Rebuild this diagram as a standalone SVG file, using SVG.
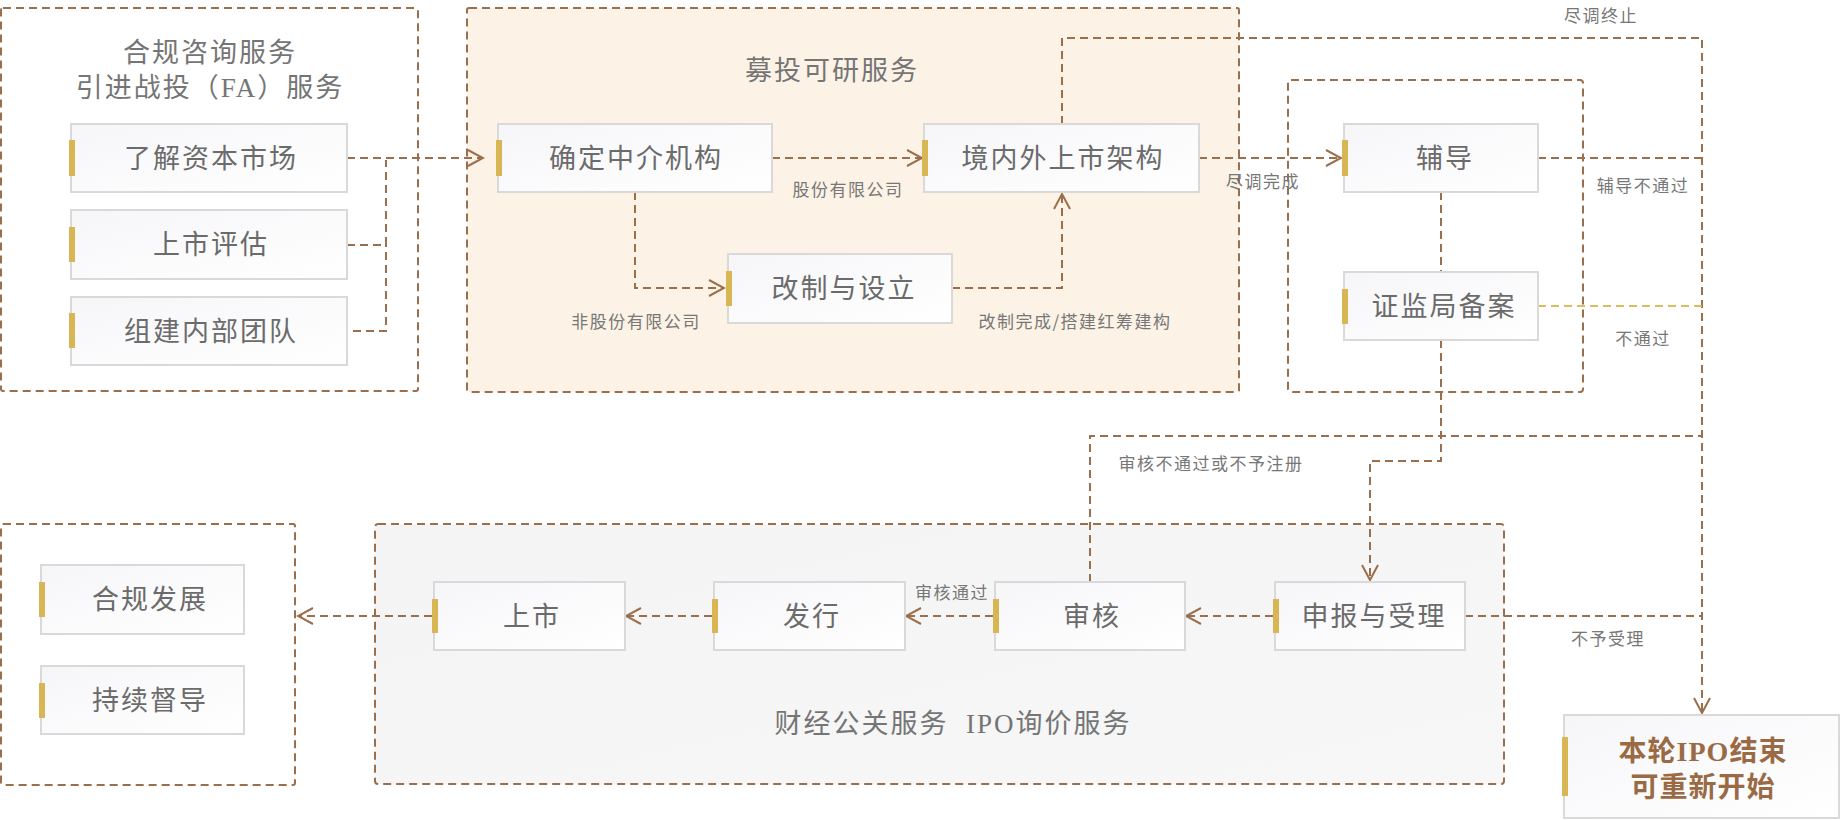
<svg xmlns="http://www.w3.org/2000/svg" width="1840" height="820" viewBox="0 0 1840 820">
<style>
.frame{fill:none;stroke:#9b6e4c;stroke-width:2;stroke-dasharray:8 5}
.node rect.b{fill:url(#ng);stroke:#d9d9d9;stroke-width:2}
.node rect.bar{fill:#d8b653;stroke:none}
.nt{font-family:"Liberation Serif","Noto Sans CJK SC",serif;font-size:27px;letter-spacing:2px;fill:#6b6b6b;text-anchor:middle}
.tt{font-family:"Liberation Serif","Noto Sans CJK SC",serif;font-size:27px;letter-spacing:2px;fill:#757575;text-anchor:middle;white-space:pre}
.lb{font-family:"Noto Sans CJK SC",sans-serif;font-size:17px;letter-spacing:1.5px;fill:#777;text-anchor:middle}
.conn path{fill:none;stroke:#9b6e4c;stroke-width:2;stroke-dasharray:8 5}
.conn path.y{stroke:#dcbc5e}
.end{font-family:"Liberation Serif","Noto Sans CJK SC",serif;font-size:28px;font-weight:bold;letter-spacing:1px;fill:#9a6a45;text-anchor:middle}
</style>
<defs>
<linearGradient id="ng" x1="0" y1="0" x2="1" y2="1">
<stop offset="0" stop-color="#f6f6f9"/>
<stop offset="1" stop-color="#ffffff"/>
</linearGradient>
<linearGradient id="eg" x1="0" y1="0" x2="1" y2="1">
<stop offset="0" stop-color="#f4f4f4"/>
<stop offset="1" stop-color="#f7f7f7"/>
</linearGradient>
<marker id="ar" markerUnits="userSpaceOnUse" markerWidth="18" markerHeight="20" viewBox="0 0 18 20" refX="16" refY="10" orient="auto">
<path d="M1,2 L16,10 L1,18" fill="none" stroke="#9b6e4c" stroke-width="2" stroke-dasharray="none"/>
</marker>
</defs>
<rect width="1840" height="820" fill="#ffffff"/>

<g id="frames">
<rect class="frame" x="1" y="8" width="417" height="383" rx="2"/>
<rect class="frame" x="467" y="8" width="772" height="384" rx="2" style="fill:#fcf3e6"/>
<rect class="frame" x="1288" y="80" width="295" height="312" rx="3"/>
<rect class="frame" x="1" y="524" width="294" height="261" rx="2"/>
<rect class="frame" x="375" y="524" width="1129" height="260" rx="3" style="fill:url(#eg)"/>
<text class="tt" x="210" y="62">合规咨询服务</text>
<text class="tt" x="210" y="97">引进战投（FA）服务</text>
<text class="tt" x="832" y="80">募投可研服务</text>
<text class="tt" x="953" y="733" xml:space="preserve">财经公关服务  IPO询价服务</text>
</g>

<g class="conn" id="connectors">
<path d="M347 158 H483" marker-end="url(#ar)"/>
<path d="M347 245 H386 V160"/>
<path d="M353 331 H386 V245"/>
<path d="M772 158 H922" marker-end="url(#ar)"/>
<path d="M635 192 V288 H724" marker-end="url(#ar)"/>
<path d="M952 288 H1062 V194" marker-end="url(#ar)"/>
<path d="M1062 124 V38 H1702 V713" marker-end="url(#ar)"/>
<path d="M1199 158 H1341" marker-end="url(#ar)"/>
<path d="M1538 158 H1702"/>
<path class="y" d="M1538 306 H1702"/>
<path d="M1441 192 V272"/>
<path d="M1441 340 V461 H1370 V580" marker-end="url(#ar)"/>
<path d="M1090 582 V436 H1702"/>
<path d="M1465 616 H1702"/>
<path d="M1273 616 H1186" marker-end="url(#ar)"/>
<path d="M993 616 H906" marker-end="url(#ar)"/>
<path d="M712 616 H626" marker-end="url(#ar)"/>
<path d="M432 616 H298" marker-end="url(#ar)"/>
<text class="lb" x="848" y="196">股份有限公司</text>
<text class="lb" x="636" y="328">非股份有限公司</text>
<text class="lb" x="1075" y="328">改制完成/搭建红筹建构</text>
<text class="lb" x="1601" y="22">尽调终止</text>
<text class="lb" x="1263" y="188">尽调完成</text>
<text class="lb" x="1643" y="192">辅导不通过</text>
<text class="lb" x="1643" y="345">不通过</text>
<text class="lb" x="1211" y="470">审核不通过或不予注册</text>
<text class="lb" x="952" y="599">审核通过</text>
<text class="lb" x="1608" y="645">不予受理</text>
</g>

<g id="n-liaojie" class="node"><rect class="b" x="71" y="124" width="276" height="68"/><rect class="bar" x="69" y="140" width="6" height="36"/><text class="nt" x="211" y="168">了解资本市场</text></g>
<g id="n-pinggu" class="node"><rect class="b" x="71" y="210" width="276" height="69"/><rect class="bar" x="69" y="227" width="6" height="35"/><text class="nt" x="211" y="254">上市评估</text></g>
<g id="n-tuandui" class="node"><rect class="b" x="71" y="297" width="276" height="68"/><rect class="bar" x="69" y="313" width="6" height="35"/><text class="nt" x="211" y="341">组建内部团队</text></g>
<g id="n-zhongjie" class="node"><rect class="b" x="498" y="124" width="274" height="68"/><rect class="bar" x="496" y="140" width="6" height="36"/><text class="nt" x="636" y="168">确定中介机构</text></g>
<g id="n-jiagou" class="node"><rect class="b" x="924" y="124" width="275" height="68"/><rect class="bar" x="922" y="140" width="6" height="36"/><text class="nt" x="1063" y="168">境内外上市架构</text></g>
<g id="n-gaizhi" class="node"><rect class="b" x="728" y="254" width="224" height="69"/><rect class="bar" x="726" y="271" width="6" height="35"/><text class="nt" x="844" y="298">改制与设立</text></g>
<g id="n-fudao" class="node"><rect class="b" x="1344" y="124" width="194" height="68"/><rect class="bar" x="1342" y="140" width="6" height="36"/><text class="nt" x="1445" y="168">辅导</text></g>
<g id="n-beian" class="node"><rect class="b" x="1344" y="272" width="194" height="68"/><rect class="bar" x="1342" y="289" width="6" height="35"/><text class="nt" x="1444" y="316">证监局备案</text></g>
<g id="n-hegui" class="node"><rect class="b" x="41" y="565" width="203" height="69"/><rect class="bar" x="39" y="582" width="6" height="35"/><text class="nt" x="150" y="609">合规发展</text></g>
<g id="n-dudao" class="node"><rect class="b" x="41" y="666" width="203" height="68"/><rect class="bar" x="39" y="683" width="6" height="35"/><text class="nt" x="150" y="710">持续督导</text></g>
<g id="n-shangshi" class="node"><rect class="b" x="434" y="582" width="191" height="68"/><rect class="bar" x="432" y="599" width="6" height="34"/><text class="nt" x="532" y="626">上市</text></g>
<g id="n-faxing" class="node"><rect class="b" x="714" y="582" width="191" height="68"/><rect class="bar" x="712" y="599" width="6" height="34"/><text class="nt" x="812" y="626">发行</text></g>
<g id="n-shenhe" class="node"><rect class="b" x="995" y="582" width="190" height="68"/><rect class="bar" x="993" y="599" width="6" height="34"/><text class="nt" x="1092" y="626">审核</text></g>
<g id="n-shenbao" class="node"><rect class="b" x="1275" y="582" width="190" height="68"/><rect class="bar" x="1273" y="599" width="6" height="34"/><text class="nt" x="1374" y="626">申报与受理</text></g>
<g id="n-end" class="node"><rect class="b" x="1564" y="715" width="275" height="103"/><rect class="bar" x="1562" y="737" width="6" height="59"/><text class="end" x="1703" y="761">本轮IPO结束</text><text class="end" x="1703" y="797">可重新开始</text></g>
</svg>
